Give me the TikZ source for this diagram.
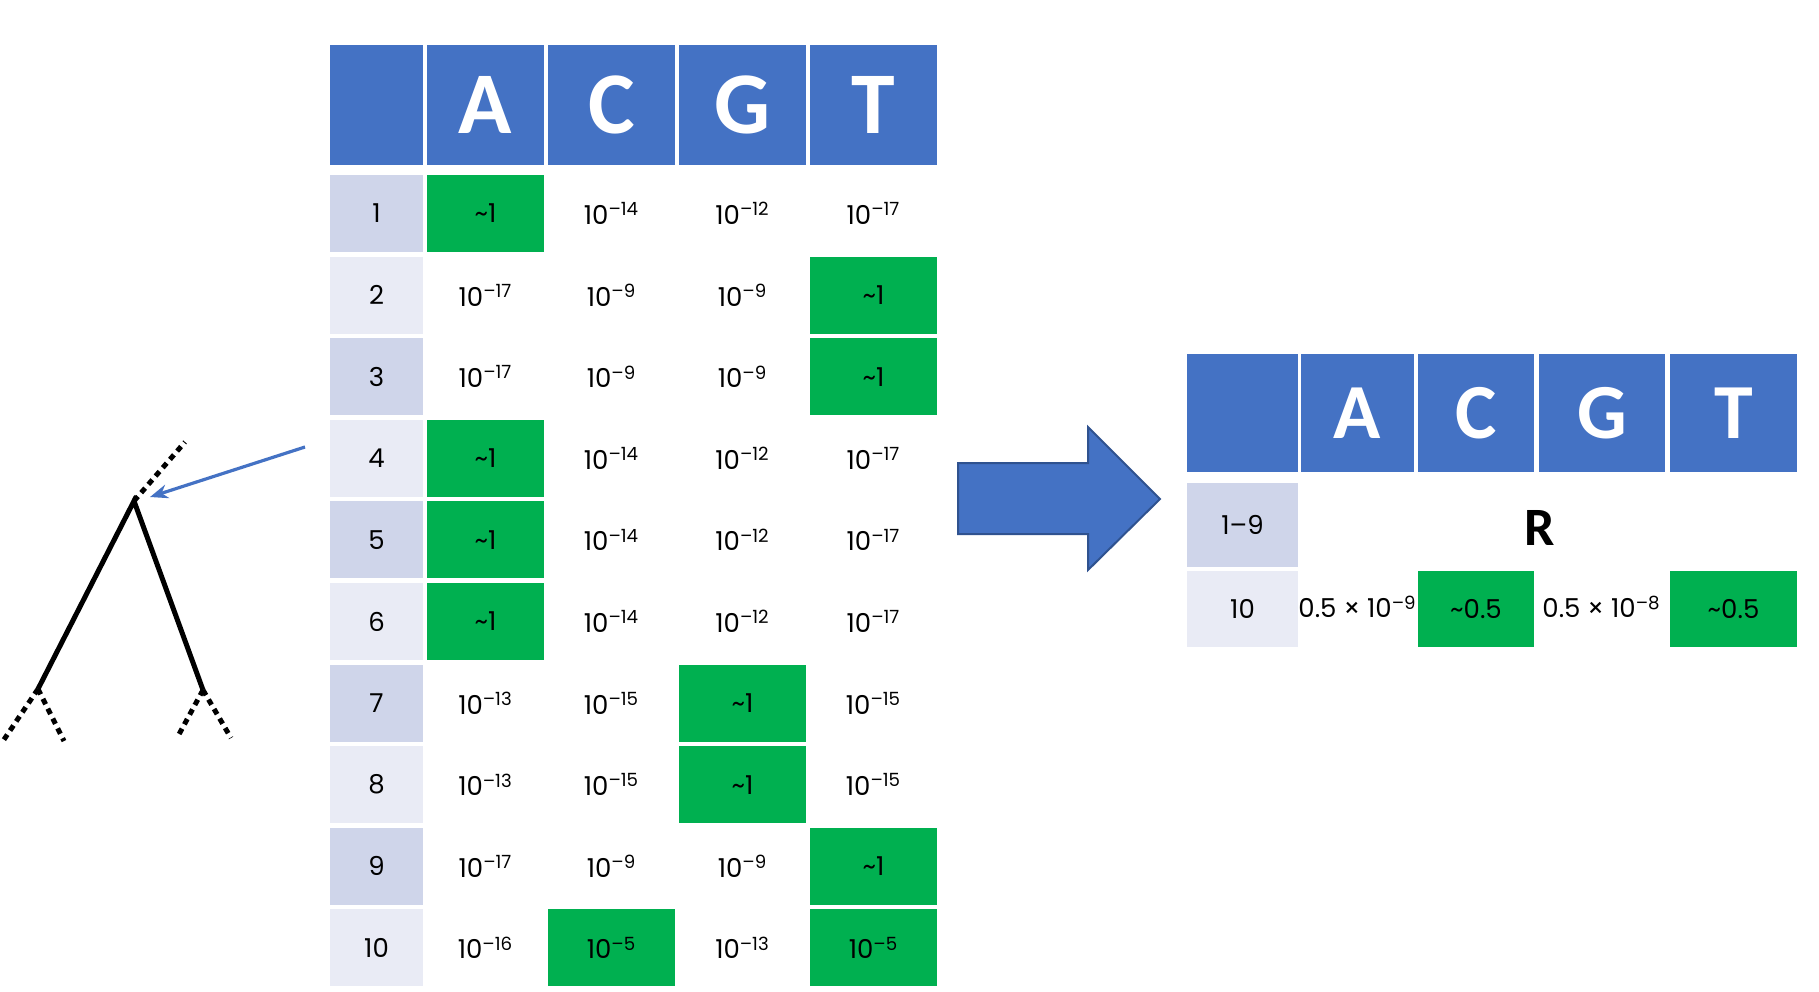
\documentclass[tikz,border=0pt]{standalone}
\usepackage{fontspec}
\usetikzlibrary{arrows.meta}
\setmainfont{Poppins}
\newfontfamily\hdr{Carlito}
\definecolor{hblue}{HTML}{4472C4}
\definecolor{hdark}{HTML}{2F528F}
\definecolor{shA}{HTML}{CFD5EA}
\definecolor{shB}{HTML}{E9EBF5}
\definecolor{gr}{HTML}{00B050}
\newcommand\ee[1]{10\textsuperscript{–#1}}
\newcommand\tl{\textasciitilde}
\tikzset{celltxt/.style={inner sep=0pt,font=\fontsize{13}{13}\selectfont},
  hdrtxt/.style={inner sep=0pt,text=white,font=\hdr\bfseries\fontsize{44}{44}\selectfont},
  hdrtxtB/.style={inner sep=0pt,text=white,font=\hdr\bfseries\fontsize{39}{39}\selectfont}}
% left table cell: row col fill text
\newcommand\lc[4]{%
  \pgfmathsetmacro\xa{{330,427,548,679,810}[#2]}%
  \pgfmathsetmacro\xb{{423,544,675,806,937}[#2]}%
  \pgfmathsetmacro\ya{175+(#1-1)*81.6}%
  \pgfmathsetmacro\yb{\ya+77}%
  \path[fill=#3] (\xa,\ya) rectangle (\xb,\yb);
  \node[celltxt] (c#1x#2) at ({(\xa+\xb)/2},{(\ya+\yb)/2}) {#4};}
\begin{document}
\begin{tikzpicture}[x=0.5pt,y=-0.5pt]
\useasboundingbox (0,0) rectangle (1819,991);
% left header
\foreach \xa/\xb/\t [count=\i] in {330/423/{},427/544/A,548/675/C,679/806/G,810/937/T}{
  \path[fill=hblue] (\xa,45) rectangle (\xb,165);
  \node[hdrtxt] (h\i) at ({(\xa+\xb)/2},105) {\t};
}
% rows
\lc{1}{0}{shA}{1}\lc{1}{1}{gr}{\tl1}\lc{1}{2}{white}{\ee{14}}\lc{1}{3}{white}{\ee{12}}\lc{1}{4}{white}{\ee{17}}
\lc{2}{0}{shB}{2}\lc{2}{1}{white}{\ee{17}}\lc{2}{2}{white}{\ee{9}}\lc{2}{3}{white}{\ee{9}}\lc{2}{4}{gr}{\tl1}
\lc{3}{0}{shA}{3}\lc{3}{1}{white}{\ee{17}}\lc{3}{2}{white}{\ee{9}}\lc{3}{3}{white}{\ee{9}}\lc{3}{4}{gr}{\tl1}
\lc{4}{0}{shB}{4}\lc{4}{1}{gr}{\tl1}\lc{4}{2}{white}{\ee{14}}\lc{4}{3}{white}{\ee{12}}\lc{4}{4}{white}{\ee{17}}
\lc{5}{0}{shA}{5}\lc{5}{1}{gr}{\tl1}\lc{5}{2}{white}{\ee{14}}\lc{5}{3}{white}{\ee{12}}\lc{5}{4}{white}{\ee{17}}
\lc{6}{0}{shB}{6}\lc{6}{1}{gr}{\tl1}\lc{6}{2}{white}{\ee{14}}\lc{6}{3}{white}{\ee{12}}\lc{6}{4}{white}{\ee{17}}
\lc{7}{0}{shA}{7}\lc{7}{1}{white}{\ee{13}}\lc{7}{2}{white}{\ee{15}}\lc{7}{3}{gr}{\tl1}\lc{7}{4}{white}{\ee{15}}
\lc{8}{0}{shB}{8}\lc{8}{1}{white}{\ee{13}}\lc{8}{2}{white}{\ee{15}}\lc{8}{3}{gr}{\tl1}\lc{8}{4}{white}{\ee{15}}
\lc{9}{0}{shA}{9}\lc{9}{1}{white}{\ee{17}}\lc{9}{2}{white}{\ee{9}}\lc{9}{3}{white}{\ee{9}}\lc{9}{4}{gr}{\tl1}
\lc{10}{0}{shB}{10}\lc{10}{1}{white}{\ee{16}}\lc{10}{2}{gr}{\ee{5}}\lc{10}{3}{white}{\ee{13}}\lc{10}{4}{gr}{\ee{5}}
% tree
\coordinate (apex) at (134,501);
\coordinate (lf) at (38,689);
\coordinate (rf) at (203,690);
\coordinate (up) at (185,442);
\draw[line width=2.5pt] (lf) -- (apex) -- (rf);
\draw[line width=2.5pt,dash pattern=on 3pt off 2.5pt] (apex) -- (up);
\draw[line width=2.5pt,dash pattern=on 3pt off 2.5pt] (lf) -- (3,741) (lf) -- (64,741);
\draw[line width=2.5pt,dash pattern=on 3pt off 2.5pt] (rf) -- (177,738) (rf) -- (231,738);
\coordinate (arrs) at (305,447);
\draw[hblue,line width=1.6pt,-{Stealth[length=9pt,width=7pt]}] (arrs) -- (150,497);
% big arrow
\path[fill=hblue,draw=hdark,line width=1pt] (958,463) -- (1088,463) -- (1088,427) -- (1160,499) -- (1088,570) -- (1088,534) -- (958,534) -- cycle;
% right table
\foreach \xa/\xb/\t [count=\i] in {1187/1298/{},1301/1414/A,1418/1534/C,1539/1665/G,1670/1797/T}{
  \path[fill=hblue] (\xa,354) rectangle (\xb,472);
  \node[hdrtxtB] (rh\i) at ({(\xa+\xb)/2},413) {\t};
}
\path[fill=shA] (1187,483) rectangle (1298,567);
\node[celltxt] (r19) at (1242.5,525) {1–9};
\node[inner sep=0pt,font=\hdr\bfseries\fontsize{27}{27}\selectfont] (R) at (1540,528) {R};
\path[fill=shB] (1187,571) rectangle (1298,647);
\node[celltxt] (r10) at (1242.5,609) {10};
\node[celltxt] (v1) at (1357.5,607) {0.5 × 10\textsuperscript{–9}};
\path[fill=gr] (1418,571) rectangle (1534,647);
\node[celltxt] (v2) at (1476,609) {\tl0.5};
\node[celltxt] (v3) at (1601.5,607) {0.5 × 10\textsuperscript{–8}};
\path[fill=gr] (1670,571) rectangle (1797,647);
\node[celltxt] (v4) at (1733.5,609) {\tl0.5};
\end{tikzpicture}
\end{document}
